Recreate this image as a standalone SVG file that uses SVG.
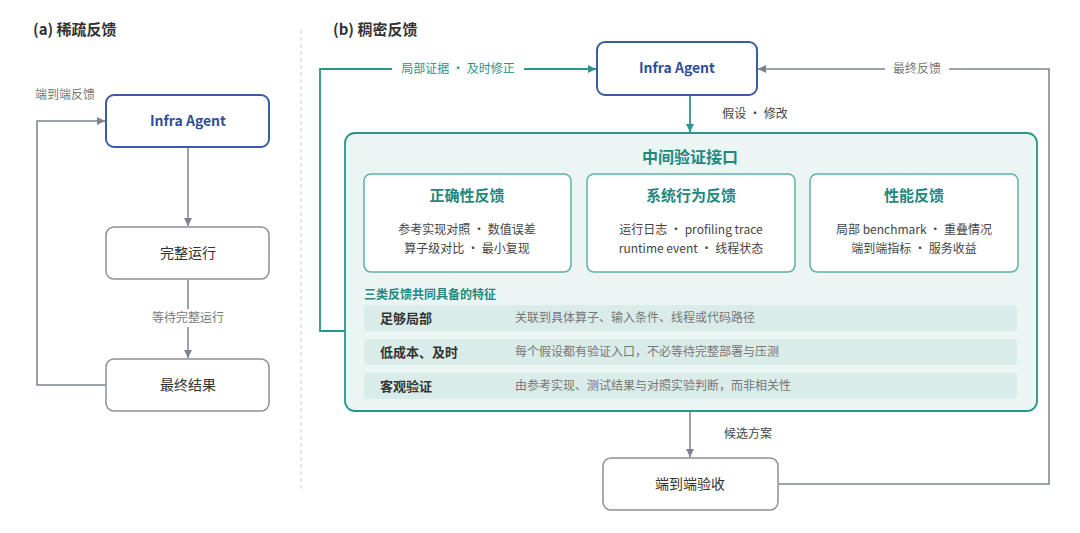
<svg xmlns="http://www.w3.org/2000/svg" width="1080" height="533" viewBox="0 0 1080 533">
<defs>
<marker id="ag" markerWidth="10" markerHeight="10" refX="9" refY="5" orient="auto" markerUnits="userSpaceOnUse"><path d="M1,1 L9,5 L1,9 Z" fill="#7d8290"/></marker>
<marker id="at" markerWidth="10" markerHeight="10" refX="9" refY="5" orient="auto" markerUnits="userSpaceOnUse"><path d="M1,1 L9,5 L1,9 Z" fill="#2a958b"/></marker>
<style>
text{font-family:"Noto Sans CJK SC","Noto Sans",sans-serif}
.h{font-size:15px;font-weight:bold;fill:#333}
.box{fill:#fff;stroke:#8a8f99;stroke-width:1.5}
.ag{fill:#fff;stroke:#3b5ba5;stroke-width:2}
.agt{font-size:14px;font-weight:bold;fill:#2f4f98}
.nt{font-size:14px;fill:#333}
.lbl{font-size:12px;fill:#777}
.cg{fill:none;stroke:#7d8290;stroke-width:1.5}
.ct{fill:none;stroke:#2a958b;stroke-width:1.8}
.sub{fill:#fff;stroke:#5fb0a8;stroke-width:1.5}
.st{font-size:15px;font-weight:bold;fill:#24877e}
.sl{font-size:12px;fill:#444}
.row{fill:#d9ece9}
.rl{font-size:13px;font-weight:bold;fill:#333}
.rd{font-size:12px;fill:#777}
</style>
</defs>
<text class="h" x="33" y="35">(a) 稀疏反馈</text>
<text class="h" x="333" y="35">(b) 稠密反馈</text>
<line x1="301" y1="30" x2="301" y2="492" stroke="#ccc" stroke-dasharray="4,3"/>
<g id="connectors">
<line class="cg" x1="188" y1="148" x2="188" y2="226" marker-end="url(#ag)"/>
<line class="cg" x1="188" y1="280" x2="188" y2="358" marker-end="url(#ag)"/>
<rect x="145" y="309" width="86" height="18" fill="#fff"/>
<text class="lbl" x="188" y="322" text-anchor="middle">等待完整运行</text>
<polyline class="cg" points="106,385 37,385 37,121 105,121" marker-end="url(#ag)"/>
<text class="lbl" x="65" y="99" text-anchor="middle">端到端反馈</text>
<line class="ct" x1="690" y1="96" x2="690" y2="132" marker-end="url(#at)"/>
<text class="sl" x="755" y="118" text-anchor="middle">假设 · 修改</text>
<polyline class="ct" points="345,331 320,331 320,69 596,69" marker-end="url(#at)"/>
<rect x="392" y="60" width="132" height="18" fill="#fff"/>
<text x="458" y="73" text-anchor="middle" font-size="12" fill="#2a958b">局部证据 · 及时修正</text>
<polyline class="cg" points="779,484 1049,484 1049,69 758,69" marker-end="url(#ag)"/>
<rect x="885" y="60" width="64" height="18" fill="#fff"/>
<text class="lbl" x="917" y="73" text-anchor="middle">最终反馈</text>
<line class="cg" x1="690" y1="412" x2="690" y2="457" marker-end="url(#ag)"/>
<text class="sl" x="748" y="438" text-anchor="middle">候选方案</text>
</g>
<g id="a-agent"><rect class="ag" x="106" y="95" width="163" height="52" rx="8"/><text class="agt" x="188" y="126" text-anchor="middle">Infra Agent</text></g>
<g id="a-run"><rect class="box" x="106" y="227" width="163" height="52" rx="8"/><text class="nt" x="188" y="258" text-anchor="middle">完整运行</text></g>
<g id="a-result"><rect class="box" x="106" y="359" width="163" height="52" rx="8"/><text class="nt" x="188" y="390" text-anchor="middle">最终结果</text></g>
<g id="b-agent"><rect class="ag" x="597" y="42" width="160" height="53" rx="8"/><text class="agt" x="677" y="73" text-anchor="middle">Infra Agent</text></g>
<g id="b-interface">
<rect x="345" y="133" width="692" height="278" rx="10" fill="#eaf5f4" stroke="#2a958b" stroke-width="1.8"/>
<text x="690" y="163" text-anchor="middle" font-size="16" font-weight="bold" fill="#24877e">中间验证接口</text>
<rect class="sub" x="364" y="174" width="207" height="98" rx="7"/>
<text class="st" x="467" y="201" text-anchor="middle">正确性反馈</text>
<text class="sl" x="467" y="234" text-anchor="middle">参考实现对照 · 数值误差</text>
<text class="sl" x="467" y="253" text-anchor="middle">算子级对比 · 最小复现</text>
<rect class="sub" x="587" y="174" width="208" height="98" rx="7"/>
<text class="st" x="691" y="201" text-anchor="middle">系统行为反馈</text>
<text class="sl" x="691" y="234" text-anchor="middle">运行日志 · profiling trace</text>
<text class="sl" x="691" y="253" text-anchor="middle">runtime event · 线程状态</text>
<rect class="sub" x="810" y="174" width="208" height="98" rx="7"/>
<text class="st" x="914" y="201" text-anchor="middle">性能反馈</text>
<text class="sl" x="914" y="234" text-anchor="middle">局部 benchmark · 重叠情况</text>
<text class="sl" x="914" y="253" text-anchor="middle">端到端指标 · 服务收益</text>
<text x="364" y="299" font-size="12" font-weight="bold" fill="#24877e">三类反馈共同具备的特征</text>
<rect class="row" x="364" y="305" width="653" height="26" rx="4"/>
<text class="rl" x="380" y="323">足够局部</text><text class="rd" x="515" y="322">关联到具体算子、输入条件、线程或代码路径</text>
<rect class="row" x="364" y="339" width="653" height="26" rx="4"/>
<text class="rl" x="380" y="357">低成本、及时</text><text class="rd" x="515" y="356">每个假设都有验证入口，不必等待完整部署与压测</text>
<rect class="row" x="364" y="373" width="653" height="26" rx="4"/>
<text class="rl" x="380" y="391">客观验证</text><text class="rd" x="515" y="390">由参考实现、测试结果与对照实验判断，而非相关性</text>
</g>
<g id="b-accept"><rect class="box" x="603" y="458" width="175" height="52" rx="8"/><text class="nt" x="690" y="489" text-anchor="middle">端到端验收</text></g>
</svg>
